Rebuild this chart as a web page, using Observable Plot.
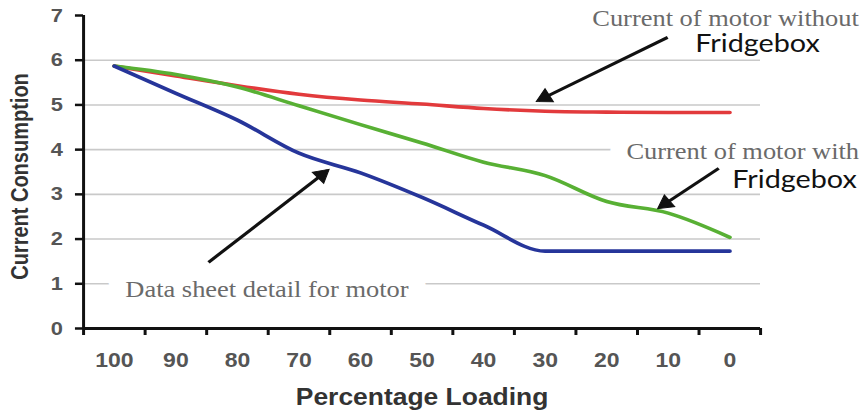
<!DOCTYPE html>
<html>
<head>
<meta charset="utf-8">
<script src="https://cdn.jsdelivr.net/npm/d3@7"></script>
<script src="https://cdn.jsdelivr.net/npm/@observablehq/plot@0.6"></script>
<style>
html, body { margin: 0; padding: 0; background: #fff; }
#chart { width: 867px; height: 418px; overflow: hidden; }
</style>
</head>
<body>
<div id="chart"></div>
<script>
// ---- data ----
const loading = [100, 90, 80, 70, 60, 50, 40, 30, 20, 10, 0];
const withoutFridgebox = [5.87, 5.65, 5.43, 5.24, 5.11, 5.02, 4.92, 4.86, 4.84, 4.83, 4.83];
const withFridgebox    = [5.87, 5.68, 5.40, 4.98, 4.56, 4.15, 3.72, 3.42, 2.84, 2.58, 2.04];
const dataSheet        = [5.87, 5.26, 4.66, 3.92, 3.48, 2.93, 2.31, 1.73, 1.73, 1.73, 1.73];
const yTicks = [0, 1, 2, 3, 4, 5, 6, 7];
const gridTicks = [1, 2, 3, 4, 5, 6];
const seriesNames = ["Current of motor without Fridgebox", "Current of motor with Fridgebox", "Data sheet detail for motor"];
const seriesColors = ["#e23a3c", "#58b034", "#26359a"];

// category boundaries (ticks sit between the labels)
const xBoundaries = loading.map(d => d + 5).concat([loading[loading.length - 1] - 5]);

const rows = [];
[withoutFridgebox, withFridgebox, dataSheet].forEach((vals, s) => {
  loading.forEach((l, i) => rows.push({series: seriesNames[s], load: l, value: vals[i]}));
});

// annotations (data coordinates)
const serifNotes = [
  {text: "Current of motor without", x: 0.7, y: 6.94},
  {text: "Current of motor with", x: -2.1, y: 3.95},
  {text: "Data sheet detail for motor", x: 75.2, y: 0.86}
];
const sansNotes = [
  {text: "Fridgebox", x: 5.6, y: 6.36},
  {text: "Fridgebox", x: -0.4, y: 3.31}
];
const arrows = [
  {x1: 10.1, y1: 6.51, x2: 31.1, y2: 5.10},
  {x1: 1.8, y1: 3.58, x2: 11.4, y2: 2.71},
  {x1: 84.7, y1: 1.48, x2: 65.4, y2: 3.53}
];

// ---- layout ----
const S = 1.15;            // horizontal stretch of the original picture
const W = 867 / S, H = 418;

function makePlot(heads) {
  return Plot.plot({
    width: W,
    height: H,
    marginLeft: 83 / S,
    marginRight: (867 - 760) / S,
    marginTop: 15,
    marginBottom: 90,
    style: {fontFamily: "'Liberation Sans', Arial, sans-serif", background: "#fff", overflow: "visible"},
    x: {type: "linear", domain: [105, -5]},
    y: {domain: [0, 7]},
    color: {domain: seriesNames, range: seriesColors},
    marks: [
      Plot.gridY(gridTicks, {stroke: "#c9c9c9", strokeOpacity: 1, strokeWidth: 1.6}),
      Plot.text(serifNotes, {x: "x", y: "y", text: "text", fontFamily: "'Liberation Serif', 'Times New Roman', serif",
        fontSize: 23, fill: "#6a6a6a", stroke: "white", strokeWidth: 30, strokeLinejoin: "round", textAnchor: "middle"}),
      Plot.line(rows, {x: "load", y: "value", z: "series", stroke: "series", strokeWidth: 3.6, curve: "monotone-x"}),
      Plot.ruleY([0], {stroke: "#111", strokeWidth: 2.8}),
      Plot.ruleX([105], {y1: 0, y2: 7, stroke: "#111", strokeWidth: 2.6}),
      Plot.axisY(yTicks, {tickSize: 7, tickPadding: 11, fontSize: 19, fontWeight: "bold", fill: "#555", stroke: "#111", strokeWidth: 2.5, label: null}),
      Plot.axisX(xBoundaries, {tickSize: 7, tickFormat: () => "", stroke: "#111", strokeWidth: 2.6, label: null}),
      Plot.axisX(loading, {tickSize: 0, tickPadding: 24, fontSize: 20, fontWeight: "bold", fill: "#555", label: null}),
      Plot.text(["Percentage Loading"], {text: d => d, frameAnchor: "bottom", dy: 76.6, fontSize: 23, fontWeight: "bold", fill: "#333"}),
      Plot.text(["Current Consumption"], {text: d => d, frameAnchor: "left", textAnchor: "middle", rotate: -90,
        dx: 17.4 - 83 / S, dy: 4.5, fontSize: 20, fontWeight: "bold", fill: "#333"}),
      Plot.text(sansNotes, {x: "x", y: "y", text: "text", fontFamily: "Lato, 'DejaVu Sans', sans-serif", fontSize: 25, fill: "#111", textAnchor: "start"}),
      Plot.link(arrows, {x1: "x1", y1: "y1", x2: "x2", y2: "y2", stroke: "#111", strokeWidth: 3}),
      heads ? Plot.dot(heads, {x: "x", y: "y", rotate: "angle", symbol: "triangle", r: 5.5, fill: "#111", stroke: "#111", strokeWidth: 1}) : null
    ]
  });
}

// first pass: get the scales to orient the arrow heads
const probe = makePlot(null);
const sx = probe.scale("x"), sy = probe.scale("y");
const heads = arrows.map(a => {
  const px1 = sx.apply(a.x1), py1 = sy.apply(a.y1), px2 = sx.apply(a.x2), py2 = sy.apply(a.y2);
  const dx = px2 - px1, dy = py2 - py1, len = Math.hypot(dx, dy);
  const f = 6.5 / len;
  return {
    x: a.x2 + (a.x1 - a.x2) * f,
    y: a.y2 + (a.y1 - a.y2) * f,
    angle: Math.atan2(dx, -dy) * 180 / Math.PI
  };
});

const chart = makePlot(heads);
chart.setAttribute("width", 867);
chart.setAttribute("height", 418);
chart.setAttribute("preserveAspectRatio", "none");
chart.style.width = "867px";
chart.style.height = "418px";
chart.style.maxWidth = "none";
document.getElementById("chart").appendChild(chart);
</script>
</body>
</html>
